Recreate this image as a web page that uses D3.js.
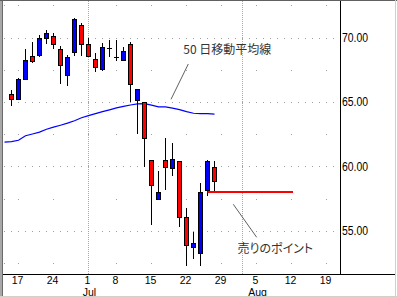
<!DOCTYPE html>
<html><head><meta charset="utf-8">
<script src="https://cdn.jsdelivr.net/npm/d3@7"></script>
<style>
html,body{margin:0;padding:0;background:#fff;}
svg{display:block;}
text{font-family:"Liberation Sans",Arial,sans-serif;}
.jp{font-family:"Noto Sans CJK JP",sans-serif;font-feature-settings:"palt";}
</style></head>
<body>
<svg id="c" width="397" height="297"></svg>
<script>
// ---- data ----
const candleDates = ["2002-06-14","2002-06-17","2002-06-18","2002-06-19","2002-06-20","2002-06-21",
  "2002-06-24","2002-06-25","2002-06-26","2002-06-27","2002-06-28",
  "2002-07-01","2002-07-02","2002-07-03","2002-07-05",
  "2002-07-08","2002-07-09","2002-07-10","2002-07-11","2002-07-12",
  "2002-07-15","2002-07-16","2002-07-17","2002-07-18","2002-07-19",
  "2002-07-22","2002-07-23","2002-07-24","2002-07-25","2002-07-26"];
const openV  = [65.62,65.23,66.79,68.58,68.65,69.98,70.13,69.12,67.10,68.89,70.99,69.51,68.34,67.56,69.22,68.50,68.26,69.51,65.18,64.97,60.48,57.45,60.48,59.86,60.40,56.05,53.71,53.25,58.15,59.94];
const highV  = [65.95,66.85,69.07,69.63,70.16,70.57,70.37,69.32,68.65,71.53,71.14,69.98,68.81,69.59,69.79,69.79,69.28,69.67,66.01,65.02,60.48,59.67,62.19,61.81,60.40,56.75,54.88,58.69,60.48,60.40];
const lowV   = [64.65,65.15,66.75,68.03,68.50,69.51,69.07,66.40,66.21,68.60,68.60,68.50,67.33,67.38,68.50,68.16,68.26,65.02,62.51,59.94,55.42,57.45,58.15,59.21,55.32,52.26,52.78,52.26,57.68,57.99];
const closeV = [65.23,66.79,68.26,68.16,69.98,70.37,69.51,67.88,68.50,71.46,69.51,68.54,67.72,69.28,69.22,68.50,68.96,66.40,66.01,62.19,58.54,58.02,59.94,60.56,56.05,53.87,54.02,58.02,60.40,58.85];
const maDates = ["2002-06-13"].concat(candleDates);
const maV = [61.88,61.91,62.02,62.37,62.51,62.65,62.88,63.04,63.19,63.35,63.54,63.77,63.93,64.09,64.24,64.38,64.53,64.65,64.76,64.84,64.86,64.75,64.61,64.61,64.51,64.40,64.24,64.12,64.09,64.09,64.05];
const yTicks = [55,60,65,70];
const yTickLabels = ["55.00","60.00","65.00","70.00"];
const yMinor = [52.5,57.5,62.5,67.5,72.5];
const xTickDates = ["2002-06-17","2002-06-24","2002-07-01","2002-07-08","2002-07-15","2002-07-22","2002-07-29","2002-08-05","2002-08-12","2002-08-19"];
const xTickLabels = ["17","24","1","8","15","22","29","5","12","19"];
const monthLabels = [{d:"2002-07-01",t:"Jul"},{d:"2002-08-05",t:"Aug"}];
const monthStarts = ["2002-07-01","2002-08-01"];
const sellLevel = 58.0, sellFrom = "2002-07-25", sellTo = "2002-08-12";
const maLabel = "50 日移動平均線", sellLabel = "売りのポイント";

// ---- trading day domain ----
const fmt = d3.timeFormat("%Y-%m-%d");
const holidays = ["2002-07-04"];
const days = d3.timeDay.range(new Date(2002,5,13), new Date(2002,7,22))
  .filter(d => d.getDay()!==0 && d.getDay()!==6 && !holidays.includes(fmt(d))).map(fmt);

const L=3, R=340, T=1, B=274;
const x = d3.scalePoint().domain(days).range([4.5, 340.5]);
const y = d3.scaleLinear().domain([55,70]).range([230.7,37.5]);

const svg = d3.select("#c");
svg.append("defs").append("clipPath").attr("id","clip").append("rect")
  .attr("x",L).attr("y",T).attr("width",R-L).attr("height",B-T);
const g = svg.append("g").attr("clip-path","url(#clip)");

// grid: month vertical dotted lines
g.selectAll(".mv").data(monthStarts).join("line")
  .attr("x1",d=>x(d)).attr("x2",d=>x(d)).attr("y1",T).attr("y2",B)
  .attr("stroke","#a8a8a8").attr("stroke-dasharray","1,1").attr("shape-rendering","crispEdges");
// major horizontal dotted (dot every trading day)
const majorDots = [];
yTicks.forEach(v => days.forEach(d => majorDots.push([d,v])));
g.selectAll(".hd").data(majorDots).join("rect")
  .attr("x",d=>Math.floor(x(d[0]))).attr("y",d=>Math.round(y(d[1]))).attr("width",1).attr("height",1)
  .attr("fill","#a0a0a0");
// sparse dots at week x half levels
const minorDots = [];
yMinor.forEach(v => xTickDates.concat(["2002-06-13"]).forEach(d => minorDots.push([d,v])));
g.selectAll(".sd").data(minorDots).join("rect")
  .attr("x",d=>Math.floor(x(d[0]))).attr("y",d=>Math.round(y(d[1]))).attr("width",1).attr("height",1)
  .attr("fill","#a0a0a0");

// moving average
g.append("path").datum(maV.map((v,i)=>[maDates[i],v]))
  .attr("d", d3.line().x(d=>x(d[0])).y(d=>y(d[1])))
  .attr("fill","none").attr("stroke","#0000ff").attr("stroke-width",1.2);

// candles
const candles = candleDates.map((d,i)=>({d,o:openV[i],h:highV[i],l:lowV[i],c:closeV[i]}));
const cg = g.selectAll(".cd").data(candles).join("g");
cg.append("line").attr("x1",d=>x(d.d)).attr("x2",d=>x(d.d))
  .attr("y1",d=>y(d.h)).attr("y2",d=>y(d.l)).attr("stroke","#000").attr("shape-rendering","crispEdges");
cg.filter(d=>d.o!==d.c).append("rect")
  .attr("x",d=>x(d.d)-2).attr("width",4)
  .attr("y",d=>Math.round(y(Math.max(d.o,d.c)))+0.5)
  .attr("height",d=>Math.max(1,Math.round(y(Math.min(d.o,d.c)))-Math.round(y(Math.max(d.o,d.c)))))
  .attr("fill",d=>d.c>d.o?"#0000ff":"#ff0000").attr("stroke","#000").attr("stroke-width",1);
cg.filter(d=>d.o===d.c).append("line")
  .attr("x1",d=>x(d.d)-2.5).attr("x2",d=>x(d.d)+2.5)
  .attr("y1",d=>Math.round(y(d.o))+0.5).attr("y2",d=>Math.round(y(d.o))+0.5)
  .attr("stroke","#000").attr("stroke-width",1);

// sell line
g.append("line").attr("x1",x(sellFrom)).attr("x2",x(sellTo)+1.5)
  .attr("y1",y(sellLevel)).attr("y2",y(sellLevel)).attr("stroke","#ff0000").attr("stroke-width",2);

// axes lines
svg.append("line").attr("x1",R).attr("x2",R).attr("y1",0).attr("y2",B)
  .attr("stroke","#000").attr("shape-rendering","crispEdges");
svg.append("line").attr("x1",L).attr("x2",395).attr("y1",B).attr("y2",B)
  .attr("stroke","#000").attr("shape-rendering","crispEdges");

// y labels
svg.selectAll(".yl").data(yTicks).join("text")
  .attr("x",342).attr("y",d=>y(d)).attr("dy","0.36em")
  .attr("font-size",12).attr("textLength",26).attr("lengthAdjust","spacingAndGlyphs")
  .attr("fill","#000").text((d,i)=>yTickLabels[i]);
// x labels
svg.selectAll(".xl").data(xTickDates).join("text")
  .attr("x",d=>x(d)-1).attr("y",284).attr("text-anchor","middle")
  .attr("font-size",10.5).attr("fill","#000").text((d,i)=>xTickLabels[i]);
svg.selectAll(".ml").data(monthLabels).join("text")
  .attr("x",d=>x(d.d)+1).attr("y",295.6).attr("text-anchor","middle")
  .attr("font-size",10.5).attr("fill","#000").text(d=>d.t);

// annotations
svg.append("line").attr("x1",188.3).attr("y1",64).attr("x2",171).attr("y2",99.3)
  .attr("stroke","#606060").attr("stroke-width",1);
svg.append("text").attr("class","jp").attr("x",183.3).attr("y",50).attr("dy","0.35em")
  .attr("font-size",12).attr("fill","#333").text(maLabel);
svg.append("line").attr("x1",233.3).attr("y1",204.3).attr("x2",256.7).attr("y2",237.3)
  .attr("stroke","#606060").attr("stroke-width",1);
svg.append("text").attr("class","jp").attr("x",237.5).attr("y",248.3).attr("dy","0.35em")
  .attr("font-size",12).attr("fill","#333").text(sellLabel);

// frame
svg.append("rect").attr("x",0).attr("y",0).attr("width",2).attr("height",297).attr("fill","#a8a8a8");
svg.append("rect").attr("x",2).attr("y",0).attr("width",1).attr("height",297).attr("fill","#6a6a6a");
svg.append("rect").attr("x",0).attr("y",0).attr("width",397).attr("height",1).attr("fill","#606060");
svg.append("rect").attr("x",395).attr("y",0).attr("width",1).attr("height",297).attr("fill","#d4d0c8");
svg.append("rect").attr("x",0).attr("y",296).attr("width",397).attr("height",1).attr("fill","#d4d0c8");
</script>
</body></html>
